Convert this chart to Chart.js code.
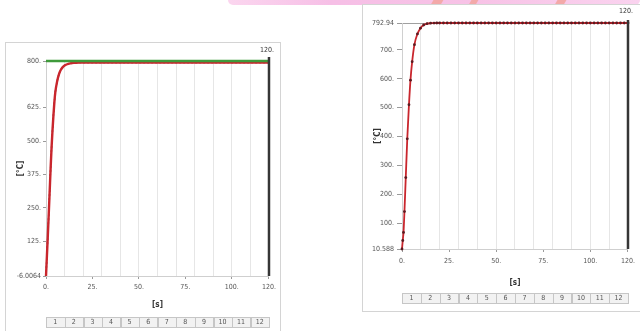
<!DOCTYPE html>
<html>
<head>
<meta charset="utf-8">
<script src="https://cdn.jsdelivr.net/npm/chart.js@4/dist/chart.umd.min.js"></script>
<style>
  html, body { margin: 0; padding: 0; background: #fff; width: 640px; height: 331px; overflow: hidden; position: relative; }
  .panel { position: absolute; border: 1px solid #d4d4d4; background: #fff; }
  .panel canvas { display: block; }
  #banner { position: absolute; left: 228px; top: 0; width: 412px; height: 5px;
            background: linear-gradient(90deg, #fbd6ef 0%, #f6bfe6 25%, #f7c2e6 60%, #fad3ef 100%);
            border-radius: 0 0 6px 6px; }
  .stripe { position: absolute; top: 0; height: 5px; background: #f3a9a9; transform: skewX(-30deg); }
</style>
</head>
<body>
<div id="banner"></div>
<div class="stripe" style="left:432px;width:10px"></div>
<div class="stripe" style="left:470px;width:7px"></div>
<div class="stripe" style="left:556px;width:9px"></div>

<div class="panel" style="left:5px;top:42px;width:274px;height:290px"><canvas id="chartLeft"></canvas></div>
<div class="panel" style="left:362px;top:4px;width:277px;height:306px"><canvas id="chartRight"></canvas></div>

<script>
// ---- time axis (seconds) ----
const xTickValues = [0, 25, 50, 75, 100, 120];
const xTickLabels = ['0.', '25.', '50.', '75.', '100.', '120.'];
const xGridValues = [10, 20, 30, 40, 50, 60, 70, 80, 90, 100, 110];
const stripLabels = ['1', '2', '3', '4', '5', '6', '7', '8', '9', '10', '11', '12'];
const cursorTime = 120;
const cursorLabel = '120.';

// ---- left panel: set point and furnace temperature ----
const setTime = [0, 120];
const setTemp = [800, 800];
const leftTime = [0, 0.5, 1, 1.5, 2, 2.5, 3, 3.5, 4, 4.5, 5, 6, 7, 8, 9, 10, 11, 12, 13, 14, 15, 16, 18, 20,
                  30, 40, 50, 60, 70, 80, 90, 100, 110, 120];
const leftTemp = [-6.0064, 70, 148, 230, 315, 400, 476, 540, 596, 645, 682, 724, 751, 767, 777, 783, 787, 789.5, 791.2, 792.4,
                  793.2, 793.7, 794, 794, 794, 794, 794, 794, 794, 794, 794, 794, 794, 794];
const leftYTicks = [-6.0064, 125, 250, 375, 500, 625, 800];
const leftYLabels = ['-6.0064', '125.', '250.', '375.', '500.', '625.', '800.'];

// ---- right panel: sample temperature ----
const rightTime = [0, 0.4, 0.8, 1.3, 2, 2.8, 3.7, 4.5, 5.4, 6.6, 8.2, 9.8, 11.5, 13.3, 15.2, 17, 18.5,
                   20, 22, 24, 26, 28, 30, 32, 34, 36, 38, 40, 42, 44, 46, 48, 50, 52, 54, 56, 58,
                   60, 62, 64, 66, 68, 70, 72, 74, 76, 78, 80, 82, 84, 86, 88, 90, 92, 94, 96, 98,
                   100, 102, 104, 106, 108, 110, 112, 114, 116, 118, 120];
const rightTemp = [10.588, 40, 68, 140, 258, 392, 510, 595, 659, 718, 755, 775, 786, 790.5, 792.2, 792.7, 792.9,
                   792.94, 792.94, 792.94, 792.94, 792.94, 792.94, 792.94, 792.94, 792.94, 792.94, 792.94, 792.94, 792.94, 792.94, 792.94, 792.94, 792.94, 792.94, 792.94, 792.94,
                   792.94, 792.94, 792.94, 792.94, 792.94, 792.94, 792.94, 792.94, 792.94, 792.94, 792.94, 792.94, 792.94, 792.94, 792.94, 792.94, 792.94, 792.94, 792.94, 792.94,
                   792.94, 792.94, 792.94, 792.94, 792.94, 792.94, 792.94, 792.94, 792.94, 792.94, 792.94];
const rightYTicks = [10.588, 100, 200, 300, 400, 500, 600, 700, 792.94];
const rightYLabels = ['10.588', '100.', '200.', '300.', '400.', '500.', '600.', '700.', '792.94'];

const FONT = "'Liberation Sans Narrow', 'DejaVu Sans Condensed', 'Liberation Sans', sans-serif";
Chart.defaults.font.family = FONT;
Chart.defaults.font.size = 7;
Chart.defaults.color = '#555';

const pairs = (xs, ys) => xs.map((x, i) => ({ x: x, y: ys[i] }));

// Draws the cursor at the end of the run and the numbered strip under the time axis.
function panelDecor(opts) {
  return {
    id: 'panelDecor',
    afterDatasetsDraw(chart) {
      const { ctx, chartArea, scales } = chart;
      const px = scales.x.getPixelForValue(cursorTime);
      ctx.save();
      ctx.strokeStyle = '#363636';
      ctx.lineWidth = 2.5;
      ctx.beginPath();
      ctx.moveTo(px, chartArea.top - opts.cursorRise);
      ctx.lineTo(px, chartArea.bottom);
      ctx.stroke();
      ctx.fillStyle = '#333';
      ctx.font = '7px ' + FONT;
      ctx.textAlign = 'center';
      ctx.textBaseline = 'middle';
      ctx.fillText(cursorLabel, px - 2, chartArea.top - opts.labelRaise);
      ctx.restore();
    },
    afterDraw(chart) {
      const { ctx, chartArea, scales } = chart;
      const xs = scales.x;
      const span = (xs.max - xs.min) / stripLabels.length;
      const top = chartArea.bottom + opts.stripOffset;
      const h = opts.stripHeight;
      ctx.save();
      ctx.fillStyle = '#f2f2f2';
      ctx.fillRect(xs.left, top, xs.right - xs.left, h);
      ctx.strokeStyle = '#c6c6c6';
      ctx.lineWidth = 1;
      ctx.font = '7px ' + FONT;
      ctx.textAlign = 'center';
      ctx.textBaseline = 'middle';
      stripLabels.forEach((lab, i) => {
        const a = xs.getPixelForValue(xs.min + i * span);
        const b = xs.getPixelForValue(xs.min + (i + 1) * span);
        ctx.strokeRect(Math.round(a) + 0.5, Math.round(top) + 0.5, Math.round(b - a), h);
        ctx.fillStyle = '#555';
        ctx.fillText(lab, (a + b) / 2, top + h / 2 + 0.5);
      });
      ctx.restore();
    }
  };
}

function buildChart(id, datasets, y, geo) {
  const xAll = Array.from(new Set(xTickValues.concat(xGridValues))).sort((a, b) => a - b);
  return new Chart(document.getElementById(id), {
    type: 'line',
    data: { datasets: datasets },
    options: {
      responsive: true,
      maintainAspectRatio: false,
      animation: false,
      events: [],
      layout: { padding: { left: 0, right: geo.right, top: geo.top, bottom: 0 } },
      plugins: { legend: { display: false }, tooltip: { enabled: false } },
      scales: {
        x: {
          type: 'linear', min: 0, max: 120,
          afterBuildTicks: s => { s.ticks = xAll.map(v => ({ value: v })); },
          afterFit: s => { s.height = geo.xHeight; },
          ticks: {
            autoSkip: false, maxRotation: 0, padding: geo.xPad, color: '#555',
            callback: v => { const k = xTickValues.indexOf(v); return k >= 0 ? xTickLabels[k] : ''; }
          },
          grid: {
            tickLength: 3,
            color: c => (c.tick && xGridValues.includes(c.tick.value)) ? '#e6e6e6' : 'rgba(0,0,0,0)',
            tickColor: c => (c.tick && xTickValues.includes(c.tick.value)) ? '#9a9a9a' : 'rgba(0,0,0,0)'
          },
          border: { display: true, color: '#cfcfcf' },
          title: { display: true, text: '[s]', color: '#333', font: { size: 8, weight: 'bold' },
                   padding: { top: 0, bottom: geo.xHeight - geo.titleOffset - 4.8 } }
        },
        y: {
          type: 'linear', min: y.min, max: y.max,
          afterBuildTicks: s => { s.ticks = y.ticks.map(v => ({ value: v })); },
          afterFit: s => { s.width = geo.yWidth; },
          ticks: { autoSkip: false, padding: geo.yPad, color: '#555',
                   callback: (v, i) => y.labels[i] },
          grid: {
            tickLength: geo.yTick,
            color: c => (c.tick && c.tick.value === y.max) ? '#a0a0a0' : 'rgba(0,0,0,0)',
            tickColor: '#9a9a9a'
          },
          border: { display: true, color: '#d0d0d0' },
          title: { display: true, text: '[°C]', color: '#333', font: { size: 8, weight: 'bold' },
                   padding: { top: 10, bottom: 0 } }
        }
      }
    },
    plugins: [panelDecor(geo)]
  });
}

buildChart('chartLeft', [
  { data: pairs(setTime, setTemp), borderColor: '#3f9a3b', borderWidth: 2.4, pointRadius: 0, clip: false },
  { data: pairs(leftTime, leftTemp), borderColor: '#c9262d', borderWidth: 2.4, pointRadius: 0,
    cubicInterpolationMode: 'monotone', clip: false },
  { data: pairs(leftTime, leftTemp), borderColor: '#35121c', borderWidth: 1.4, borderDash: [2, 2], pointRadius: 0,
    cubicInterpolationMode: 'monotone', clip: false }
], { min: -6.0064, max: 800, ticks: leftYTicks, labels: leftYLabels },
{ right: 10, top: 18, yWidth: 40, xHeight: 57, xPad: 4, yPad: 2, yTick: 3, titleOffset: 29,
  stripOffset: 41, stripHeight: 10, cursorRise: 4, labelRaise: 11 });

buildChart('chartRight', [
  { data: pairs(rightTime, rightTemp), borderColor: '#c9262d', borderWidth: 1.8,
    pointRadius: 1.4, pointBackgroundColor: '#5c1a20', pointBorderWidth: 0,
    cubicInterpolationMode: 'monotone', clip: false }
], { min: 10.588, max: 792.94, ticks: rightYTicks, labels: rightYLabels },
{ right: 8, top: 18, yWidth: 39, xHeight: 62, xPad: 5, yPad: 3, yTick: 5, titleOffset: 34,
  stripOffset: 44, stripHeight: 10, cursorRise: 3, labelRaise: 12 });
</script>
</body>
</html>
